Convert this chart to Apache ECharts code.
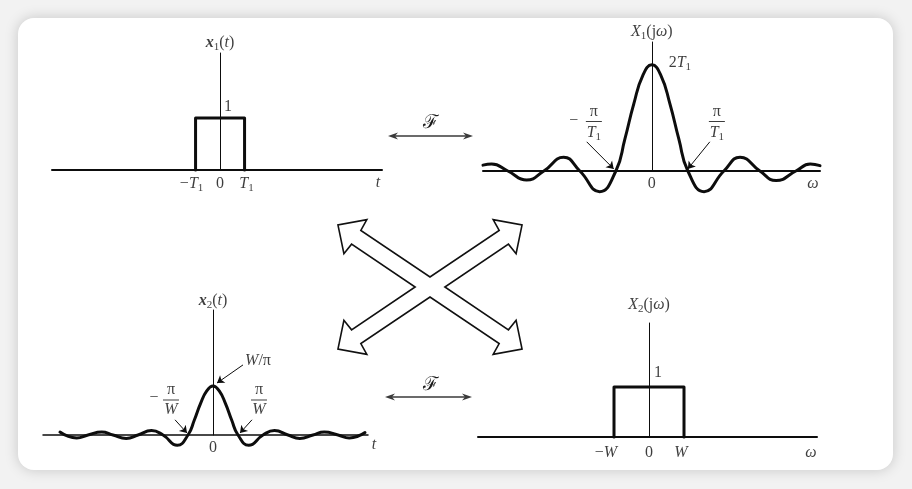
<!DOCTYPE html>
<html><head><meta charset="utf-8">
<script src="https://cdn.jsdelivr.net/npm/echarts@6/dist/echarts.min.js"></script>
<style>
html,body{margin:0;padding:0;background:#f2f2f2;}
#wrap{position:relative;width:912px;height:489px;overflow:hidden;}
#card{position:absolute;left:18px;top:18px;width:875px;height:452px;border-radius:16px;background:#fff;box-shadow:0 0 14px rgba(0,0,0,0.18);}
#c{position:absolute;left:0;top:0;width:912px;height:489px;}
</style>
</head><body><div id="wrap"><div id="card"></div><div id="c"></div></div>
<script>
// ================= DATA =================
// Panel 1: x1(t) rectangular pulse, t in units of T1
const x1T = [-1, -1, 1, 1];
const x1V = [0, 1, 1, 0];
// Panel 2: X1(jω), ω in units of π/T1, amplitude in units of T1
const X1W = [-4.69, -4.45, -4.0, -3.48, -3.0, -2.45, -2.0, -1.45, -1.0, -0.75, -0.5, -0.25, 0, 0.25, 0.5, 0.75, 1.0, 1.45, 2.0, 2.45, 3.0, 3.45, 4.0, 4.4, 4.67];
const X1V = [0.11, 0.13, 0, -0.17, 0, 0.26, 0, -0.39, 0, 0.6, 1.27, 1.8, 2.0, 1.8, 1.27, 0.6, 0, -0.39, 0, 0.26, 0, -0.18, 0, 0.13, 0.1];
// Panel 3: x2(t), t in units of π/W, amplitude in units of W/π
const x2T = [-6.12, -5.45, -5.0, -4.45, -4.0, -3.47, -3.0, -2.46, -2.0, -1.43, -1.0, -0.75, -0.5, -0.25, 0, 0.25, 0.5, 0.75, 1.0, 1.43, 2.0, 2.46, 3.0, 3.47, 4.0, 4.45, 5.0, 5.45, 6.08];
const x2V = [0.06, -0.06, 0, 0.06, 0, -0.07, 0, 0.09, 0, -0.21, 0, 0.3, 0.64, 0.9, 1, 0.9, 0.64, 0.3, 0, -0.21, 0, 0.09, 0, -0.07, 0, 0.06, 0, -0.06, 0.05];
// Panel 4: X2(jω) rectangular spectrum, ω in units of W
const X2W = [-1, -1, 1, 1];
const X2V = [0, 1, 1, 0];

// axis extents (data units) of each panel
const xRanges = [[-6.86, 6.61], [-4.69, 4.67], [-6.8, 6.2], [-4.886, 4.8]];
const yRanges = [[0, 2.25], [0, 2.43], [0, 2.55], [0, 2.28]];

// tick values and their texts
const p1Ticks = [-1, 0, 1];
const p1TickText = ['{n|−}{v|T}{s|1}', '{n|0}', '{v|T}{s|1}'];
const p2Ticks = [0];
const p2TickText = ['{n|0}'];
const p3Ticks = [0];
const p3TickText = ['{n|0}'];
const p4Ticks = [-1, 0, 1];
const p4TickText = ['{n|−}{v|W}', '{n|0}', '{v|W}'];

// axis names / annotations text
const axisNames = ['{vb|x}{s|1}{n|(}{v|t}{n|)}', '{v|X}{s|1}{n|(j}{v|ω}{n|)}', '{vb|x}{s|2}{n|(}{v|t}{n|)}', '{v|X}{s|2}{n|(j}{v|ω}{n|)}'];
const varNames = ['{v|t}', '{v|ω}', '{v|t}', '{v|ω}'];
const heightText = ['{n|1}', '{n|2}{v|T}{s|1}', '{v|W}{n|/π}', '{n|1}'];
const fracT1 = '{n|π}\n{bar| }\n{v|T}{s|1}';
const fracW = '{n|π}\n{bar| }\n{v|W}';

// ================= LAYOUT / STYLE =================
const ink = '#0d0d0d';
const SERIF = '"Liberation Serif","Times New Roman","DejaVu Serif",serif';
const grids = [
  {left: 52, top: 53, width: 330, height: 117},
  {left: 483, top: 42, width: 337, height: 129},
  {left: 43, top: 310, width: 325, height: 125},
  {left: 478, top: 323, width: 339, height: 114}
];
const horizW = [2, 2, 1.5, 2];
const rich = {
  n: {fontFamily: SERIF, fontSize: 16, color: ink},
  v: {fontFamily: SERIF, fontSize: 16, fontStyle: 'italic', color: ink},
  vb: {fontFamily: SERIF, fontSize: 16, fontStyle: 'italic', fontWeight: 'bold', color: ink},
  s: {fontFamily: SERIF, fontSize: 11, color: ink, padding: [8, 0, 0, 0]},
  bar: {fontSize: 1, width: 16, height: 1, lineHeight: 4, backgroundColor: ink}
};

function lab(x, y, text, off) {
  return {value: [x, y], label: {formatter: text, offset: off}};
}

// label items for each panel (anchor in data space + pixel offset)
const labels = [
  [
    lab(0, yRanges[0][1], axisNames[0], [0, -10]),
    lab(0, 1, heightText[0], [8, -11]),
    lab(p1Ticks[0], 0, p1TickText[0], [-4, 14]),
    lab(p1Ticks[1], 0, p1TickText[1], [0, 14]),
    lab(p1Ticks[2], 0, p1TickText[2], [2, 14]),
    lab(xRanges[0][1], 0, varNames[0], [-4, 13])
  ],
  [
    lab(0, yRanges[1][1], axisNames[1], [0, -10]),
    lab(0, 2, heightText[1], [28, -2]),
    lab(p2Ticks[0], 0, p2TickText[0], [0, 13]),
    lab(xRanges[1][1], 0, varNames[1], [-7, 13]),
    lab(-1, 0, fracT1, [-22, -48]),
    lab(-1, 0, '{n|−}', [-42, -50]),
    lab(1, 0, fracT1, [29, -48])
  ],
  [
    lab(0, yRanges[2][1], axisNames[2], [0, -9]),
    lab(0, 1, heightText[2], [45, -25]),
    lab(p3Ticks[0], 0, p3TickText[0], [0, 13]),
    lab(xRanges[2][1], 0, varNames[2], [6, 10]),
    lab(-1, 0, fracW, [-17, -35]),
    lab(-1, 0, '{n|−}', [-34, -37]),
    lab(1, 0, fracW, [21, -35])
  ],
  [
    lab(0, yRanges[3][1], axisNames[3], [0, -18]),
    lab(0, 1, heightText[3], [9, -14]),
    lab(p4Ticks[0], 0, p4TickText[0], [-8, 16]),
    lab(p4Ticks[1], 0, p4TickText[1], [0, 16]),
    lab(p4Ticks[2], 0, p4TickText[2], [-3, 16]),
    lab(xRanges[3][1], 0, varNames[3], [-6, 16])
  ]
];

// pointer arrows (data space of panel)
const pointers = [
  [],
  [[[-1.81, 0.55], [-1.06, 0.04]], [[1.61, 0.55], [1.0, 0.04]]],
  [[[-1.52, 0.31], [-1.04, 0.04]], [[1.56, 0.31], [1.08, 0.04]], [[1.2, 1.43], [0.16, 1.06]]],
  []
];

const curves = [
  {x: x1T, y: x1V, smooth: false},
  {x: X1W, y: X1V, smooth: 0.5},
  {x: x2T, y: x2V, smooth: 0.5},
  {x: X2W, y: X2V, smooth: false}
];

// ================= BUILD =================
const series = [];
curves.forEach((c, i) => {
  series.push({
    type: 'line', xAxisIndex: i, yAxisIndex: i, clip: false, smooth: c.smooth,
    showSymbol: false, symbol: 'none', animation: false, z: 3,
    lineStyle: {color: ink, width: 3, join: 'round', cap: 'round'},
    data: c.x.map((v, k) => [v, c.y[k]])
  });
  series.push({
    type: 'scatter', xAxisIndex: i, yAxisIndex: i, symbolSize: 1, clip: false,
    itemStyle: {color: 'rgba(0,0,0,0)'}, animation: false, z: 5, silent: true,
    label: {show: true, position: 'inside', align: 'center', verticalAlign: 'middle', rich: rich, color: ink},
    data: labels[i]
  });
  if (pointers[i].length) {
    series.push({
      type: 'lines', coordinateSystem: 'cartesian2d', xAxisIndex: i, yAxisIndex: i,
      symbol: ['none', 'arrow'], symbolSize: 7, animation: false, z: 4, silent: true,
      lineStyle: {color: ink, width: 1, opacity: 1},
      data: pointers[i].map(p => ({coords: p}))
    });
  }
});

function xShape() {
  const C = [430, 287], a = Math.atan2(62, 92), L = 111, h = 8.3, jl = 89, bl = 90, hw = 20.5;
  const ca = Math.cos(a), sa = Math.sin(a);
  const dirs = [[ca, -sa], [ca, sa], [-ca, sa], [-ca, -sa]];
  const corners = [[C[0] + h / sa, C[1]], [C[0], C[1] + h / ca], [C[0] - h / sa, C[1]], [C[0], C[1] - h / ca]];
  const pts = [];
  dirs.forEach((u, i) => {
    const p = [u[1], -u[0]];
    const P = (s, w) => [C[0] + s * u[0] + w * p[0], C[1] + s * u[1] + w * p[1]];
    pts.push(P(jl, h), P(bl, hw), P(L, 0), P(bl, -hw), P(jl, -h), corners[i]);
  });
  return pts;
}
function dblArrow(x1, x2, y) {
  const col = '#3a3a3a';
  return [
    {type: 'line', shape: {x1: x1 + 5, y1: y, x2: x2 - 5, y2: y}, style: {stroke: col, lineWidth: 1.3}},
    {type: 'polygon', shape: {points: [[x1, y], [x1 + 10, y - 3.5], [x1 + 7, y], [x1 + 10, y + 3.5]]}, style: {fill: col}},
    {type: 'polygon', shape: {points: [[x2, y], [x2 - 10, y - 3.5], [x2 - 7, y], [x2 - 10, y + 3.5]]}, style: {fill: col}}
  ];
}
const Fstyle = {text: 'ℱ', fontFamily: '"DejaVu Serif",serif', fontSize: 19, fill: '#1a1a1a', align: 'center', verticalAlign: 'middle'};

const chart = echarts.init(document.getElementById('c'), null, {renderer: 'canvas'});
chart.setOption({
  backgroundColor: 'transparent',
  animation: false,
  grid: grids.map(g => Object.assign({containLabel: false}, g)),
  xAxis: grids.map((g, i) => ({
    type: 'value', gridIndex: i, min: xRanges[i][0], max: xRanges[i][1],
    axisLine: {show: true, onZero: false, lineStyle: {color: ink, width: horizW[i]}},
    axisTick: {show: false}, axisLabel: {show: false}, splitLine: {show: false}
  })),
  yAxis: grids.map((g, i) => ({
    type: 'value', gridIndex: i, min: yRanges[i][0], max: yRanges[i][1],
    axisLine: {show: true, onZero: true, lineStyle: {color: ink, width: 1}},
    axisTick: {show: false}, axisLabel: {show: false}, splitLine: {show: false}
  })),
  series: series,
  graphic: [
    {type: 'polygon', z: 10, shape: {points: xShape()}, style: {fill: '#fff', stroke: '#111', lineWidth: 1.6, lineJoin: 'miter'}},
    ...dblArrow(388, 473, 136),
    ...dblArrow(385, 472, 397),
    {type: 'text', x: 431, y: 123, style: Fstyle},
    {type: 'text', x: 431, y: 385, style: Fstyle}
  ]
});
</script></body></html>
